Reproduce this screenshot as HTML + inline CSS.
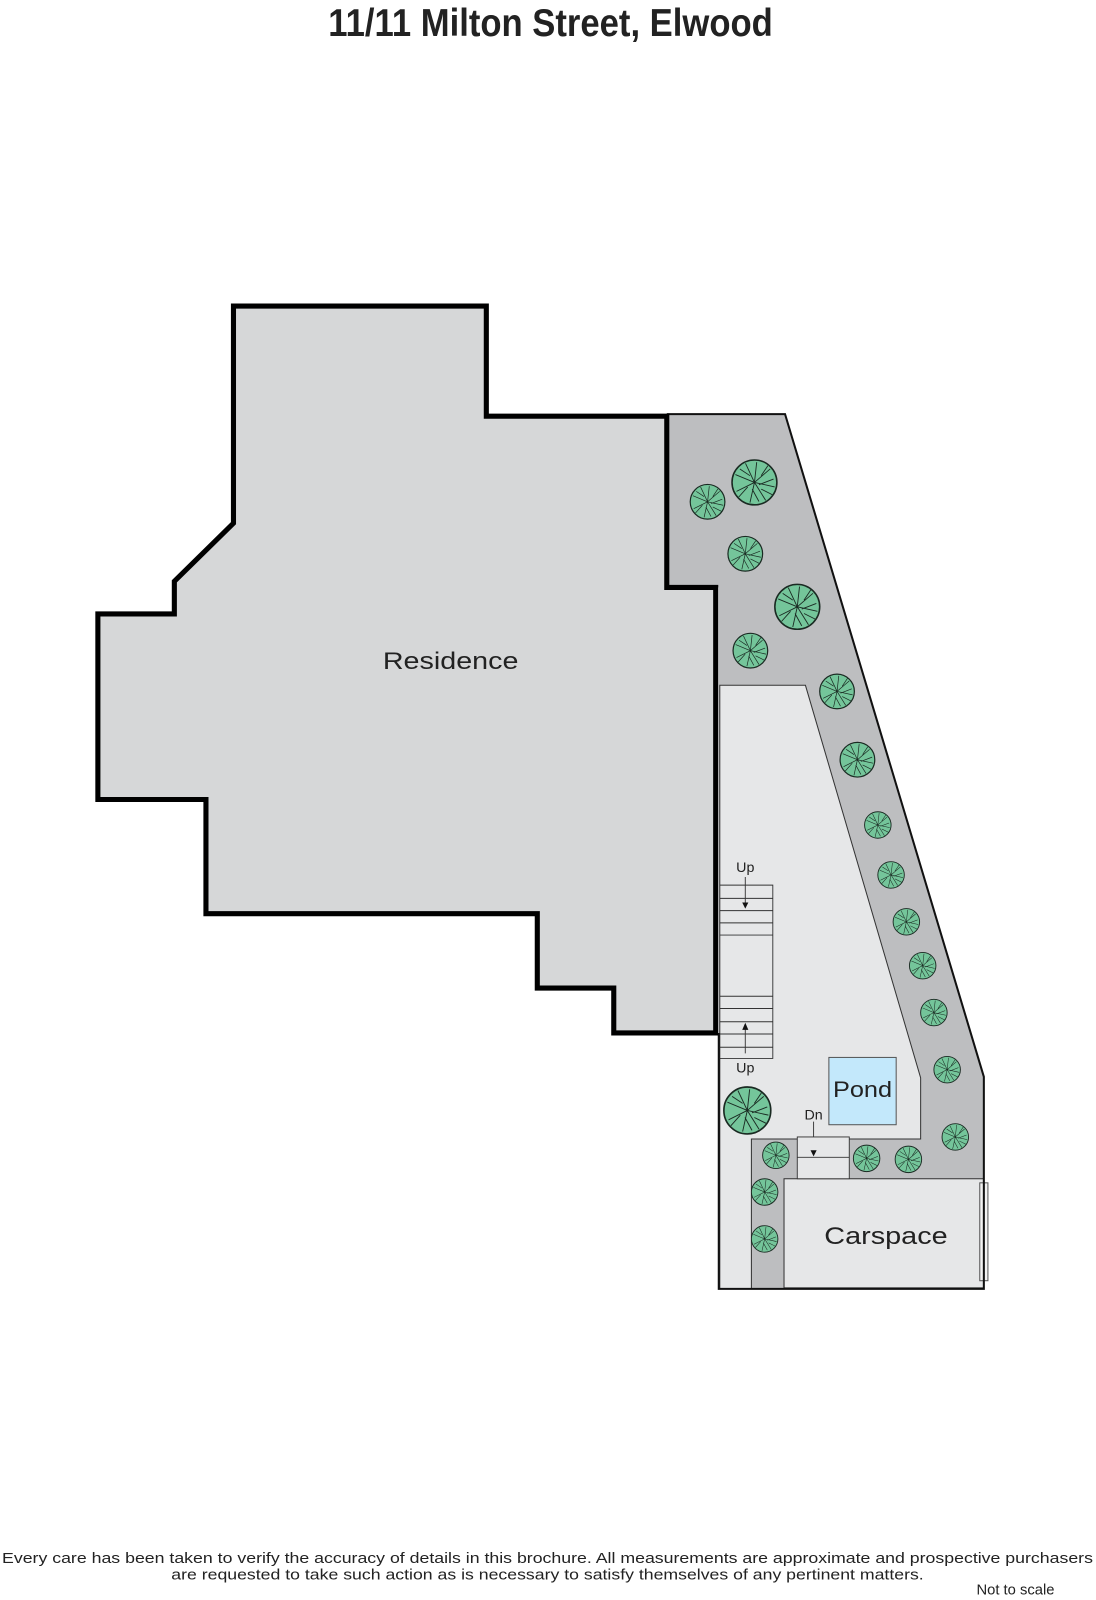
<!DOCTYPE html>
<html><head><meta charset="utf-8"><style>
html,body{margin:0;padding:0;background:#fff;}
svg{display:block;}
text{font-family:"Liberation Sans",sans-serif;}
</style></head><body>
<svg width="1096" height="1600" viewBox="0 0 1075 1569" xmlns="http://www.w3.org/2000/svg">
<defs>
<g id="t">
<circle r="1" fill="#74c59a" stroke="#1a2a22" stroke-width="0.07"/>
<g stroke="#1a2a22" stroke-width="0.04" fill="none">
<path d="M0 0 L0.1 -0.9 M0 0 L0.7 -0.6 M0 0 L0.9 0.2 M0 0 L0.5 0.8 M0 0 L-0.2 0.9 M0 0 L-0.8 0.4 M0 0 L-0.85 -0.35 M0 0 L-0.4 -0.85 M0.3 -0.3 L0.6 -0.75 M-0.3 0.2 L-0.7 0.65 M0.3 0.3 L0.8 0.55 M-0.2 -0.3 L-0.65 -0.6 M0.2 0.1 L0.85 -0.15 M-0.1 0.3 L0.2 0.85"/>
</g>
</g>
</defs>
<text x="540" y="35" text-anchor="middle" font-size="38" font-weight="bold" textLength="436" lengthAdjust="spacingAndGlyphs" fill="#222">11/11 Milton Street, Elwood</text>

<polygon points="654,406 770,406 965,1056 965,1264 705,1264 705,576 654,576" fill="#bdbec0" stroke="none"/>
<polygon points="706,672 790,672 903,1057 903,1117 737,1117 737,1264 706,1264" fill="#e6e7e8" stroke="#333" stroke-width="1"/>
<rect x="769" y="1156" width="196" height="107" fill="#e6e7e8" stroke="#333" stroke-width="1"/>
<rect x="961" y="1160" width="8" height="96" fill="#f2f2f2" stroke="#555" stroke-width="1"/>
<polyline points="654,406 770,406 965,1056 965,1264 705,1264 705,1013" fill="none" stroke="#111" stroke-width="2"/>

<polygon points="229,300 477,300 477,408 654,408 654,576 702,576 702,1013 602,1013 602,969 527,969 527,896 202,896 202,784 96,784 96,602 171,602 171,570 229,513" fill="#d6d7d8" stroke="#000" stroke-width="5"/>
<text x="442" y="656" text-anchor="middle" font-size="24" textLength="133" lengthAdjust="spacingAndGlyphs" fill="#222">Residence</text>

<g stroke="#333" stroke-width="0.9" fill="none">
<polyline points="706,868 758,868 758,1038 706,1038"/>
<path d="M706 881H758M706 893H758M706 905H758M706 917H758M706 977H758M706 989H758M706 1002H758M706 1014H758M706 1027H758"/>
<path d="M731 860V886M731 1033V1008M798 1100V1129"/>
<rect x="782" y="1115" width="51" height="41" fill="#e6e7e8"/>
<path d="M782 1135H833"/>
</g>
<g fill="#111">
<polygon points="728,885 734,885 731,891"/>
<polygon points="728,1010 734,1010 731,1003"/>
<polygon points="795,1128 801,1128 798,1134"/>
</g>
<text x="731" y="855" text-anchor="middle" font-size="14" fill="#222">Up</text>
<text x="731" y="1052" text-anchor="middle" font-size="14" fill="#222">Up</text>
<text x="798" y="1098" text-anchor="middle" font-size="14" fill="#222">Dn</text>

<rect x="813" y="1037" width="66" height="66" fill="#c3e8fb" stroke="#555" stroke-width="1"/>
<text x="846" y="1076" text-anchor="middle" font-size="22" textLength="58" lengthAdjust="spacingAndGlyphs" fill="#222">Pond</text>
<text x="869" y="1220" text-anchor="middle" font-size="24" textLength="121" lengthAdjust="spacingAndGlyphs" fill="#222">Carspace</text>

<use href="#t" transform="translate(694,492) scale(17)"/>
<use href="#t" transform="translate(740,473) scale(22)"/>
<use href="#t" transform="translate(731,543) scale(17)"/>
<use href="#t" transform="translate(782,595) scale(22)"/>
<use href="#t" transform="translate(736,638) scale(17)"/>
<use href="#t" transform="translate(821,678) scale(17)"/>
<use href="#t" transform="translate(841,745) scale(17)"/>
<use href="#t" transform="translate(861,809) scale(13)"/>
<use href="#t" transform="translate(874,858) scale(13)"/>
<use href="#t" transform="translate(889,904) scale(13)"/>
<use href="#t" transform="translate(905,947) scale(13)"/>
<use href="#t" transform="translate(916,993) scale(13)"/>
<use href="#t" transform="translate(929,1049) scale(13)"/>
<use href="#t" transform="translate(937,1115) scale(13)"/>
<use href="#t" transform="translate(733,1089) scale(23)"/>
<use href="#t" transform="translate(761,1133) scale(13)"/>
<use href="#t" transform="translate(850,1136) scale(13)"/>
<use href="#t" transform="translate(891,1137) scale(13)"/>
<use href="#t" transform="translate(750,1169) scale(13)"/>
<use href="#t" transform="translate(750,1215) scale(13)"/>

<text x="537" y="1533" text-anchor="middle" font-size="14.5" textLength="1070" lengthAdjust="spacingAndGlyphs" fill="#222">Every care has been taken to verify the accuracy of details in this brochure.  All measurements are approximate and prospective purchasers</text>
<text x="537" y="1549" text-anchor="middle" font-size="14.5" textLength="738" lengthAdjust="spacingAndGlyphs" fill="#222">are requested to take such action as is necessary to satisfy themselves of any pertinent matters.</text>
<text x="996" y="1564" text-anchor="middle" font-size="14.5" fill="#222">Not to scale</text>
</svg>
</body></html>
